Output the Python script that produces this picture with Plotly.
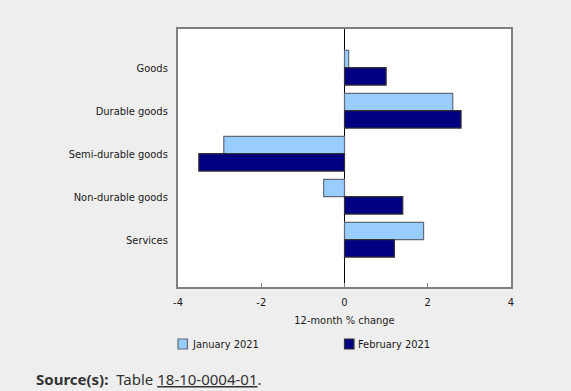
import plotly.graph_objects as go

categories = ["Goods", "Durable goods", "Semi-durable goods", "Non-durable goods", "Services"]
jan_2021 = [0.1, 2.6, -2.9, -0.5, 1.9]
feb_2021 = [1.0, 2.8, -3.5, 1.4, 1.2]
series_names = ["January 2021", "February 2021"]
x_ticks = [-4, -2, 0, 2, 4]

FONT = "DejaVu Sans Condensed, DejaVu Sans, Liberation Sans, sans-serif"
JAN_COLOR = "#99ccff"
FEB_COLOR = "#000080"

fig = go.Figure()
fig.add_trace(go.Bar(y=categories, x=jan_2021, orientation="h", name=series_names[0],
                     marker=dict(color=JAN_COLOR, line=dict(color="#5f6b78", width=1.2))))
fig.add_trace(go.Bar(y=categories, x=feb_2021, orientation="h", name=series_names[1],
                     marker=dict(color=FEB_COLOR, line=dict(color="#333333", width=1.2))))

W, H = 571, 391
ml, mr, mt, mb = 177.5, 59.5, 29, 104

fig.update_layout(
    width=W, height=H,
    margin=dict(l=ml, r=mr, t=mt, b=mb, pad=0),
    paper_bgcolor="#eeeeee", plot_bgcolor="#ffffff",
    barmode="group", bargap=0.19, bargroupgap=0,
    showlegend=False,
    font=dict(family=FONT, size=11, color="#1a1a1a"),
    xaxis=dict(range=[-4, 4], tickvals=x_ticks, ticktext=[str(v) for v in x_ticks],
               showgrid=False, zeroline=True, zerolinecolor="#000000", zerolinewidth=1,
               showline=True, mirror=True, linecolor="#808080", linewidth=2,
               ticks="inside", ticklen=4, tickcolor="#808080", tickwidth=1,
               ticklabelstandoff=4, fixedrange=True,
               title=dict(text="12-month % change", standoff=8, font=dict(size=11))),
    yaxis=dict(type="category", range=[5.1, -0.9], categoryorder="array", categoryarray=categories,
               showgrid=False, zeroline=False, showline=True, mirror=True,
               linecolor="#808080", linewidth=2, ticks="", ticklabelstandoff=6, fixedrange=True),
)

PW = W - ml - mr
PH = H - mt - mb


def paper_x(px):
    return (px - ml) / PW


def paper_y(py):
    return (H - mb - py) / PH


legend_items = [(177.5, JAN_COLOR, "#5f6b78", series_names[0]),
                (344.5, FEB_COLOR, "#333333", series_names[1])]
for x0, fill, edge, label in legend_items:
    fig.add_shape(type="rect", xref="paper", yref="paper",
                  x0=paper_x(x0), x1=paper_x(x0 + 9.5),
                  y0=paper_y(349), y1=paper_y(339),
                  fillcolor=fill, line=dict(color=edge, width=1.2))
    fig.add_annotation(xref="paper", yref="paper",
                       x=paper_x(x0 + 12), y=paper_y(344),
                       xanchor="left", yanchor="middle", showarrow=False,
                       text=label, font=dict(size=11, color="#1a1a1a"))

fig.add_annotation(xref="paper", yref="paper",
                   x=paper_x(33), y=paper_y(379),
                   xanchor="left", yanchor="middle", showarrow=False,
                   text="<b>Source(s):</b>  Table <span style=\"text-decoration:underline\">18-10-0004-01</span>.",
                   font=dict(family="Noto Sans, Open Sans, sans-serif", size=15, color="#333333"))

fig.write_html(
    "out.html",
    config={"displayModeBar": False},
    post_script="document.body.style.margin='0';document.body.style.background='#eeeeee';",
)
